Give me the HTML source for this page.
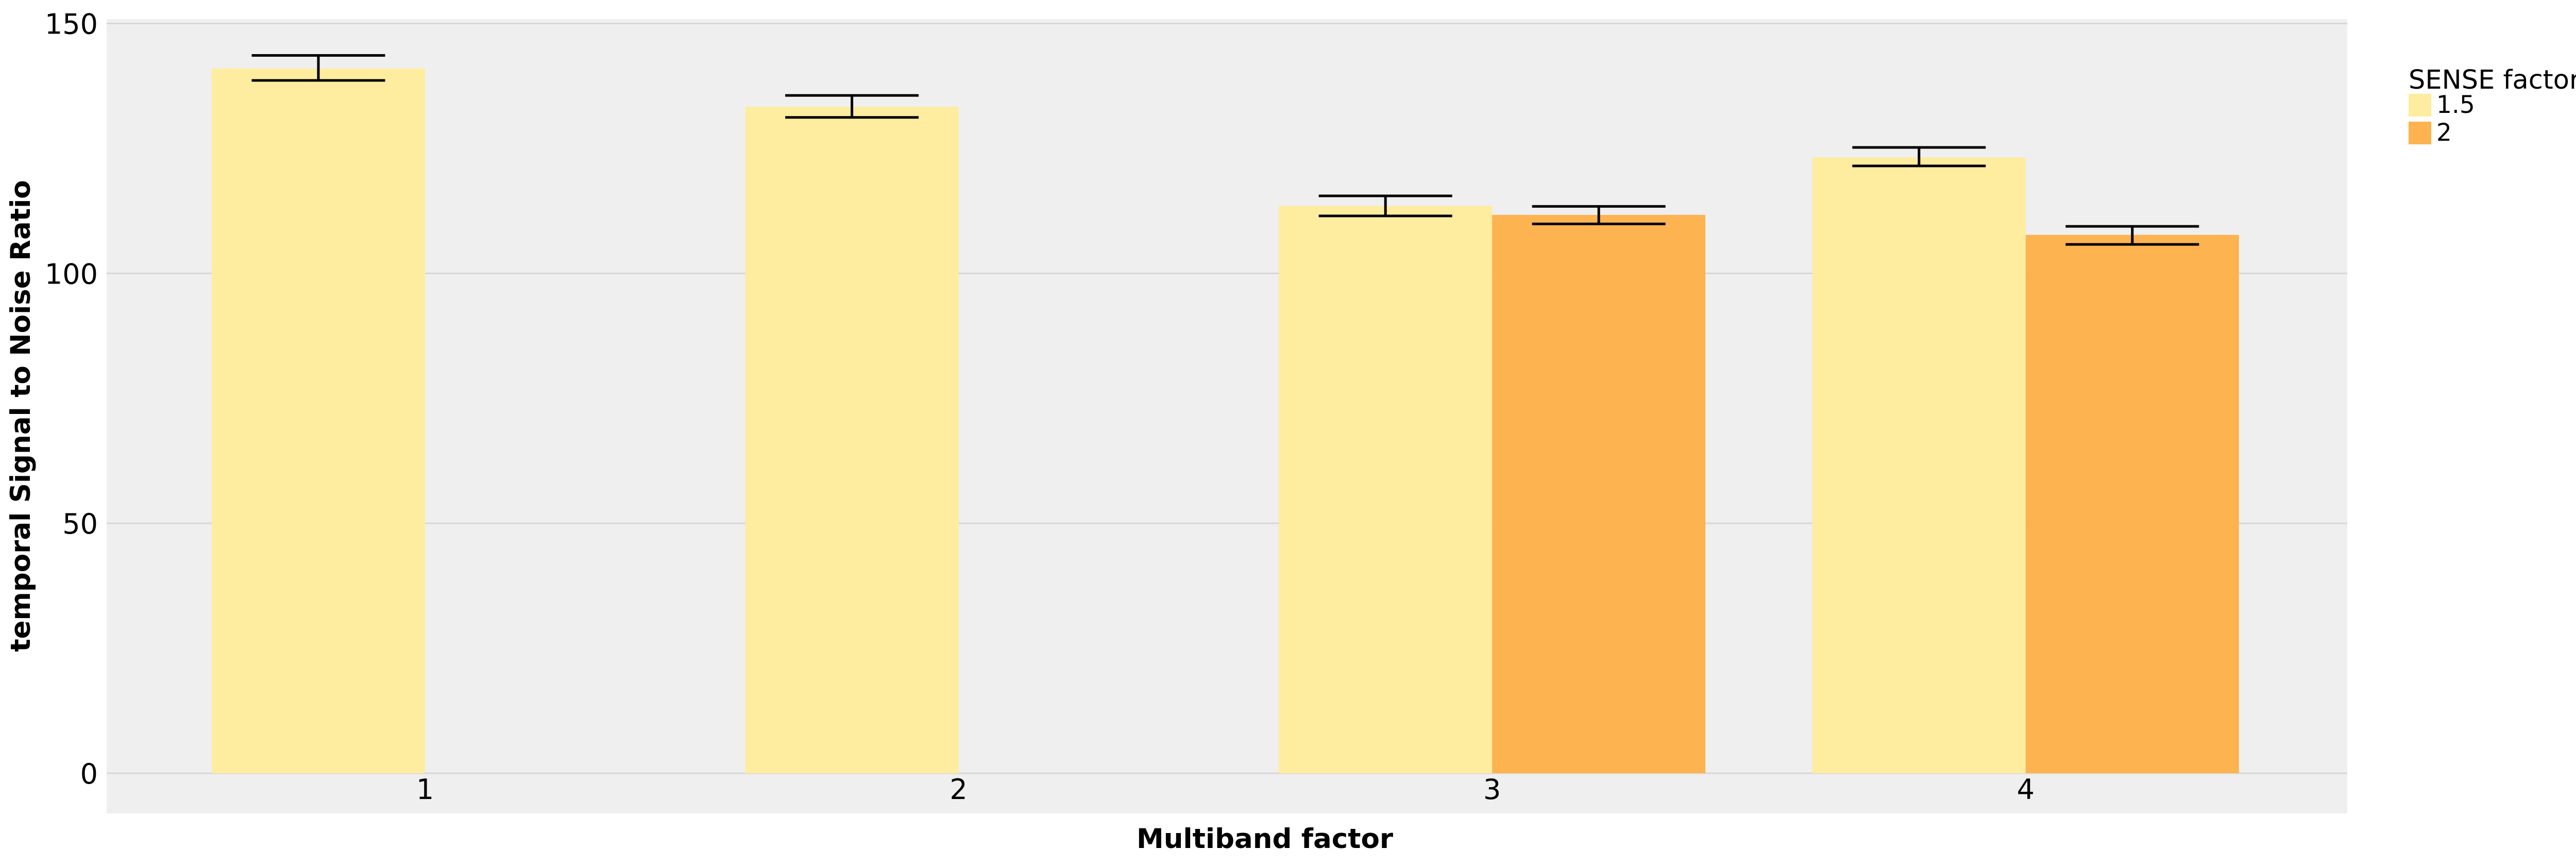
<!DOCTYPE html>
<html><head><meta charset="utf-8"><style>
html,body{margin:0;padding:0;background:#fff;overflow:hidden;}
svg{display:block;font-family:"DejaVu Sans","Liberation Sans",sans-serif;}
</style></head><body>
<svg id="chart" width="5091" height="1678" viewBox="0 0 5091 1678" xmlns="http://www.w3.org/2000/svg">
<rect x="0" y="0" width="5091" height="1678" fill="#ffffff"/>
<rect x="207" y="37" width="4349" height="1541" fill="#efefef"/>
<g id="grid"></g>
<g id="bars"></g>
<g id="errs"></g>
<g id="yticks"></g>
<g id="xticks"></g>
<text x="58" y="807" transform="rotate(-90 58 807)" text-anchor="middle" font-size="53" font-weight="bold" fill="#000">temporal Signal to Noise Ratio</text>
<text x="2455" y="1645" text-anchor="middle" font-size="53" font-weight="bold" fill="#000">Multiband factor</text>
<g>
<text x="4675" y="172" font-size="51" fill="#000">SENSE factor</text>
<rect x="4675" y="182" width="44" height="44" fill="#FEEC9F"/>
<text x="4729" y="219" font-size="47" fill="#000">1.5</text>
<rect x="4675" y="236" width="44" height="44" fill="#FDB34F"/>
<text x="4729" y="273" font-size="47" fill="#000">2</text>
</g>
</svg>
<script>
const categories = ["1", "2", "3", "4"];
const seriesNames = ["1.5", "2"];
const values15 = [141, 133.3, 113.5, 123.2];
const values2 = [null, null, 111.7, 107.7];
const errLow15 = [138.6, 131.2, 111.5, 121.5];
const errHigh15 = [143.6, 135.6, 115.5, 125.2];
const errLow2 = [null, null, 109.9, 105.8];
const errHigh2 = [null, null, 113.4, 109.4];
const yTicks = [0, 50, 100, 150];

const NS = "http://www.w3.org/2000/svg";
const y0 = 1500, yPer = 1454.5 / 150;
function yScale(v) { return y0 - v * yPer; }
const xStart = 825, xStep = 1035.6, barW = 414, capW = 259;
function xScale(i) { return xStart + i * xStep; }
function mk(tag, attrs, parent) {
  const el = document.createElementNS(NS, tag);
  for (const k in attrs) el.setAttribute(k, attrs[k]);
  parent.appendChild(el);
  return el;
}
const grid = document.getElementById('grid');
const yt = document.getElementById('yticks');
yTicks.forEach(t => {
  const l = mk('line', {x1: 207, x2: 4556, y1: yScale(t), y2: yScale(t), stroke: '#d7d7d7', 'stroke-width': 3}, grid);
  
  
  const tx = mk('text', {x: 190, y: yScale(t) + 20, 'text-anchor': 'end', 'font-size': 54, fill: '#000'}, yt);
  tx.textContent = t;
  
  
});
const xt = document.getElementById('xticks');
categories.forEach((c, i) => {
  const tx = mk('text', {x: xScale(i), y: 1550, 'text-anchor': 'middle', 'font-size': 54, fill: '#000'}, xt);
  tx.textContent = c;
  
  
});
const bars = document.getElementById('bars');
const errs = document.getElementById('errs');
const series = [
  {vals: values15, lo: errLow15, hi: errHigh15, color: '#FEEC9F', off: -1},
  {vals: values2, lo: errLow2, hi: errHigh2, color: '#FDB34F', off: 0}
];
series.forEach((s, si) => {
  categories.forEach((c, i) => {
    const v = s.vals[i];
    if (v == null) return;
    const x = xScale(i) + s.off * barW;
    const r = mk('rect', {x: x, y: yScale(v), width: barW, height: y0 - yScale(v), fill: s.color}, bars);
    
    
    const cx = x + barW / 2;
    const g = mk('g', {stroke: '#000', 'stroke-width': 5}, errs);
    
    
    mk('line', {x1: cx - capW / 2, x2: cx + capW / 2, y1: yScale(s.hi[i]), y2: yScale(s.hi[i])}, g);
    mk('line', {x1: cx - capW / 2, x2: cx + capW / 2, y1: yScale(s.lo[i]), y2: yScale(s.lo[i])}, g);
    mk('line', {x1: cx, x2: cx, y1: yScale(s.hi[i]), y2: yScale(s.lo[i])}, g);
  });
});
</script>
</body></html>
